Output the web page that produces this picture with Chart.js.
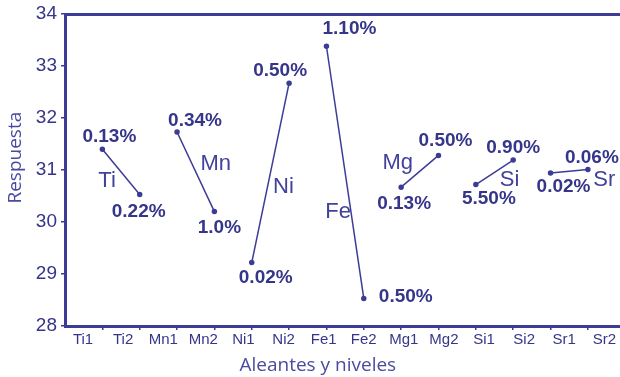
<!DOCTYPE html>
<html>
<head>
<meta charset="utf-8">
<script src="https://cdn.jsdelivr.net/npm/chart.js@4"></script>
<style>
  body { margin: 0; background: #fff; }
  #wrap { width: 620px; height: 377px; position: relative; }
</style>
</head>
<body>
<div id="wrap"><canvas id="chart"></canvas></div>
<script>
// data
const categories = ['Ti1', 'Ti2', 'Mn1', 'Mn2', 'Ni1', 'Ni2', 'Fe1', 'Fe2', 'Mg1', 'Mg2', 'Si1', 'Si2', 'Sr1', 'Sr2'];
const elements = ['Ti', 'Mn', 'Ni', 'Fe', 'Mg', 'Si', 'Sr'];
const responses = [31.40, 30.53, 31.73, 30.20, 29.22, 32.67, 33.38, 28.53, 30.67, 31.28, 30.72, 31.19, 30.94, 31.01];
const levelLabels = ['0.13%', '0.22%', '0.34%', '1.0%', '0.02%', '0.50%', '1.10%', '0.50%', '0.13%', '0.50%', '5.50%', '0.90%', '0.02%', '0.06%'];
const yTicks = [28, 29, 30, 31, 32, 33, 34];

// where the text sits relative to its point / segment (pixels)
const levelOffsets = [[7, -12], [-1, 17], [18, -11], [5, 16], [14, 15], [-9, -12], [23, -17],
                      [42, -2], [3, 17], [7, -15], [13, 14], [0, -12], [13, 14], [4, -12]];
const nameOffsets = [[-14, 9], [20, -8], [13, 14], [-7, 40], [-22, -8], [15, 8], [35, 9]];

const ink = '#35358a';
const lineColor = '#3c3c96';

const datasets = elements.map((el, k) => ({
    label: el,
    data: [0, 1].map(j => ({ x: 2 * k + j + 1, y: responses[2 * k + j] })),
    borderColor: lineColor,
    backgroundColor: lineColor,
    borderWidth: 1.5,
    pointRadius: 2,
    pointHoverRadius: 2,
    tension: 0,
    xAxisID: 'x',
    yAxisID: 'y'
}));

const textLabels = {
    id: 'textLabels',
    afterDatasetsDraw(chart) {
        const ctx = chart.ctx;
        const xs = chart.scales.x;
        const ys = chart.scales.y;
        ctx.save();
        ctx.fillStyle = ink;
        ctx.textAlign = 'center';
        ctx.textBaseline = 'middle';

        ctx.font = 'bold 19px "Liberation Sans", Arial, sans-serif';
        responses.forEach((v, i) => {
            const px = xs.getPixelForValue(i + 1);
            const py = ys.getPixelForValue(v);
            ctx.fillText(levelLabels[i], px + levelOffsets[i][0], py + levelOffsets[i][1]);
        });

        ctx.font = '22px "Liberation Sans", Arial, sans-serif';
        ctx.fillStyle = '#42429a';
        elements.forEach((el, k) => {
            const mx = (xs.getPixelForValue(2 * k + 1) + xs.getPixelForValue(2 * k + 2)) / 2;
            const my = (ys.getPixelForValue(responses[2 * k]) + ys.getPixelForValue(responses[2 * k + 1])) / 2;
            ctx.fillText(el, mx + nameOffsets[k][0], my + nameOffsets[k][1]);
        });
        ctx.restore();
    }
};

const tickValues = categories.map((c, i) => i + 1);

new Chart(document.getElementById('chart'), {
    type: 'line',
    data: { datasets: datasets },
    options: {
        responsive: true,
        maintainAspectRatio: false,
        animation: false,
        layout: { padding: 0, autoPadding: false },
        plugins: {
            legend: { display: false },
            tooltip: { enabled: false }
        },
        scales: {
            // axis that carries the points and the tick marks
            x: {
                type: 'linear',
                position: 'bottom',
                min: 0,
                max: 14.86,
                weight: 0,
                afterBuildTicks: s => { s.ticks = tickValues.map(v => ({ value: v })); },
                afterFit: s => { s.height = 4; s.paddingLeft = 0; s.paddingRight = 0; },
                ticks: { display: false },
                grid: { display: true, drawOnChartArea: false, drawTicks: true, tickLength: 4, color: lineColor, lineWidth: 1.5 },
                border: { display: true, color: lineColor, width: 3 }
            },
            // labels, which sit a little off the tick marks in the original
            x2: {
                type: 'linear',
                position: 'bottom',
                min: 0.55,
                max: 14.39,
                weight: 1,
                afterBuildTicks: s => { s.ticks = tickValues.map(v => ({ value: v })); },
                afterFit: s => { s.height = 47; s.paddingLeft = 0; s.paddingRight = 0; },
                ticks: {
                    padding: 1,
                    maxRotation: 0,
                    autoSkip: false,
                    color: ink,
                    font: { family: '"Liberation Sans", Arial, sans-serif', size: 15 },
                    callback: v => categories[v - 1]
                },
                grid: { display: false, drawTicks: false, tickLength: 0 },
                border: { display: false },
                title: {
                    display: true,
                    text: 'Aleantes y niveles          ',
                    color: '#4a4aa0',
                    font: { family: '"Open Sans", sans-serif', size: 19 },
                    padding: { top: 0, bottom: 0 }
                }
            },
            xTop: {
                type: 'linear',
                position: 'top',
                min: 0,
                max: 1,
                afterFit: s => { s.height = 14; s.paddingLeft = 0; s.paddingRight = 0; },
                ticks: { display: false },
                grid: { display: false },
                border: { display: true, color: lineColor, width: 3 }
            },
            y: {
                type: 'linear',
                min: 28,
                max: 34,
                afterBuildTicks: s => { s.ticks = yTicks.map(v => ({ value: v })); },
                afterFit: s => { s.width = 65; s.paddingTop = 0; s.paddingBottom = 0; },
                ticks: {
                    padding: 4,
                    color: ink,
                    font: { family: '"Liberation Sans", Arial, sans-serif', size: 19 }
                },
                grid: { display: true, drawOnChartArea: false, drawTicks: true, tickLength: 4, color: lineColor, lineWidth: 1.5 },
                border: { display: true, color: lineColor, width: 3 },
                title: {
                    display: true,
                    text: '     Respuesta',
                    color: '#4a4aa0',
                    font: { family: '"Open Sans", sans-serif', size: 19 },
                    padding: { top: 4, bottom: 0 }
                }
            }
        }
    },
    plugins: [textLabels]
});
</script>
</body>
</html>
